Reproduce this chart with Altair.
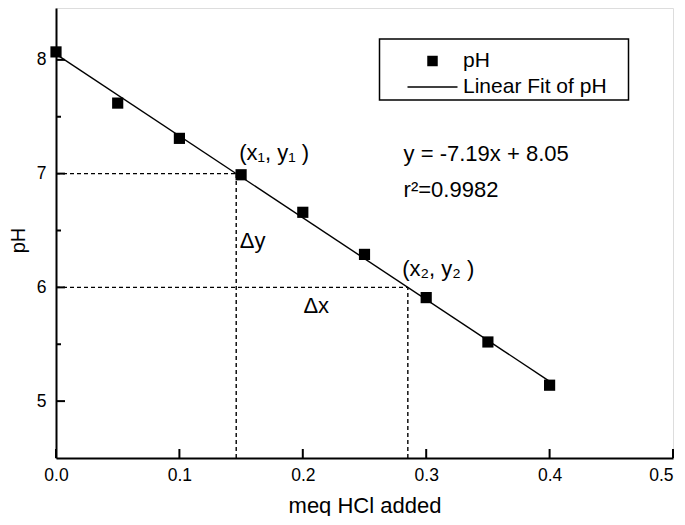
import altair as alt
import pandas as pd

# data
hcl = [0.0, 0.05, 0.10, 0.15, 0.20, 0.25, 0.30, 0.35, 0.40]
ph = [8.07, 7.62, 7.31, 6.99, 6.66, 6.29, 5.91, 5.52, 5.14]
slope = -7.19
intercept = 8.05
fit_x = [0.0, 0.40]
x_major = [0.0, 0.1, 0.2, 0.3, 0.4, 0.5]
y_major = [5, 6, 7, 8]
y_minor = [5.5, 6.5, 7.5]
y1_level = 7.0
y2_level = 6.0

FONT = "Liberation Sans"
W, H = 617, 450

pts = pd.DataFrame({"x": hcl, "y": ph})
fit = pd.DataFrame({"x": fit_x, "y": [slope * v + intercept for v in fit_x]})
x1 = (intercept - y1_level) / -slope
x2 = (intercept - y2_level) / -slope
guides = pd.DataFrame({
    "x": [0.0, x1, 0.0, x2],
    "x2": [x1, x1, x2, x2],
    "y": [y1_level, 4.5, y2_level, 4.5],
    "y2": [y1_level, y1_level, y2_level, y2_level],
})

xs = alt.Scale(domain=[0, 0.5], nice=False, zero=False)
ys = alt.Scale(domain=[4.5, 8.456], nice=False, zero=False)

xaxis = alt.Axis(values=x_major, format=".1f", ticks=False, grid=False,
                 domainColor="black", domainWidth=2, labelFont=FONT, labelFontSize=17.5,
                 labelColor="black", labelPadding=8,
                 labelAlign=alt.expr("datum.value >= 0.5 ? 'right' : 'center'"),
                 title="meq HCl added",
                 titleFont=FONT, titleFontSize=22, titleFontWeight="normal",
                 titleColor="black", titleX=W / 2, titleY=54, titleBaseline="alphabetic",
                 titleAlign="center", labelFlush=False)
yaxis = alt.Axis(values=y_major, format="d", ticks=False, grid=False,
                 domainColor="black", domainWidth=2, labelFont=FONT, labelFontSize=17.5,
                 labelColor="black", labelPadding=10, title="pH",
                 titleFont=FONT, titleFontSize=20, titleFontWeight="normal",
                 titleColor="black", titleX=-38, titleY=232, titleBaseline="middle",
                 titleAlign="center", labelFlush=False)

points = alt.Chart(pts).mark_point(shape="square", filled=True, size=125, color="black",
                                   opacity=1).encode(
    x=alt.X("x:Q", scale=xs, axis=xaxis),
    y=alt.Y("y:Q", scale=ys, axis=yaxis),
)

line = alt.Chart(fit).mark_line(color="black", strokeWidth=1.4).encode(
    x=alt.X("x:Q", scale=xs), y=alt.Y("y:Q", scale=ys)
)

dashed = alt.Chart(guides).mark_rule(color="black", strokeWidth=1.4, strokeDash=[4, 3]).encode(
    x=alt.X("x:Q", scale=xs), x2="x2:Q", y=alt.Y("y:Q", scale=ys), y2="y2:Q"
)

# inward ticks
xt = alt.Chart(pd.DataFrame({"x": x_major})).mark_rule(color="black", strokeWidth=2).encode(
    x=alt.X("x:Q", scale=xs), y=alt.value(H), y2=alt.value(H - 9)
)
ytm = alt.Chart(pd.DataFrame({"y": y_major})).mark_rule(color="black", strokeWidth=2).encode(
    y=alt.Y("y:Q", scale=ys), x=alt.value(0), x2=alt.value(9)
)
ytn = alt.Chart(pd.DataFrame({"y": y_minor})).mark_rule(color="black", strokeWidth=2).encode(
    y=alt.Y("y:Q", scale=ys), x=alt.value(0), x2=alt.value(5)
)

# annotations
ann = pd.DataFrame({
    "x": [0.1485, 0.149, 0.2805, 0.2005, 0.2817, 0.2817],
    "y": [7.18, 6.41, 6.16, 5.84, 7.17, 6.86],
    "t": ["(x\u2081, y\u2081 )", "\u0394y", "(x\u2082, y\u2082 )", "\u0394x",
          "y = -7.19x + 8.05", "r\u00b2=0.9982"],
})
texts = alt.Chart(ann).mark_text(font=FONT, fontSize=22, align="left", baseline="middle",
                                 color="black").encode(
    x=alt.X("x:Q", scale=xs), y=alt.Y("y:Q", scale=ys), text="t:N"
)

# legend box
one = pd.DataFrame({"a": [0]})
leg_box = alt.Chart(one).mark_rect(fill="white", stroke="black", strokeWidth=1.5).encode(
    x=alt.value(323.5), x2=alt.value(572.5), y=alt.value(31), y2=alt.value(92)
)
leg_sq = alt.Chart(one).mark_point(shape="square", filled=True, size=110, color="black",
                                   opacity=1).encode(x=alt.value(376.5), y=alt.value(53))
leg_ln = alt.Chart(one).mark_rule(color="black", strokeWidth=1.4).encode(
    x=alt.value(351.5), x2=alt.value(401.5), y=alt.value(79)
)
leg_txt = alt.Chart(pd.DataFrame({"t": ["pH", "Linear Fit of pH"], "yy": [53, 79]})).mark_text(
    font=FONT, fontSize=21, align="left", baseline="middle", color="black").encode(
    x=alt.value(407), y=alt.Y("yy:Q", scale=None), text="t:N"
)

chart = alt.layer(dashed, line, points, xt, ytm, ytn, texts, leg_box, leg_sq, leg_ln,
                  leg_txt).properties(
    width=W, height=H,
    autosize=alt.AutoSizeParams(type="none"),
    padding={"left": 48, "top": 0, "right": 4, "bottom": 58},
).configure_view(stroke="black", strokeWidth=2).configure(background="white")

chart.save("out.html", embed_options={"renderer": "svg", "actions": False})
